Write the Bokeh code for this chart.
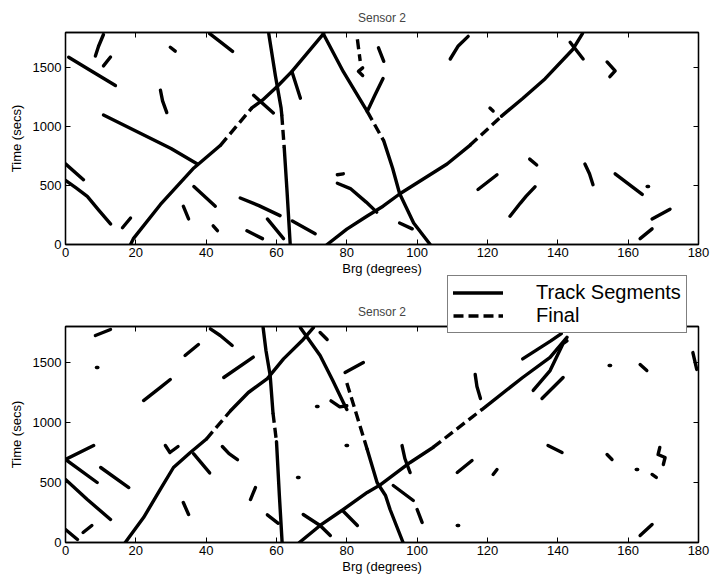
from bokeh.plotting import figure
from bokeh.models import Range1d, LinearAxis, FixedTicker, Legend, LegendItem
from bokeh.layouts import column
from bokeh.embed import file_html
from bokeh.resources import INLINE

FONT = "Liberation Sans"

X_TICKS = [0, 20, 40, 60, 80, 100, 120, 140, 160, 180]
Y_TICKS = [0, 500, 1000, 1500]
TITLES = ["Sensor 2", "Sensor 2"]
X_LABEL = "Brg (degrees)"
Y_LABEL = "Time (secs)"
LEGEND_LABELS = ["Track Segments", "Final"]

# each segment: list of (bearing deg, time s) points
TOP_SOLID = [
    [(18.5, 0), (19.3, 50), (27, 340), (36.5, 650), (44, 840)],
    [(53, 1160), (56, 1225), (60.5, 1350), (64.4, 1470), (73.4, 1790)],
    [(10.8, 1100), (30, 815), (37.5, 683)],
    [(36.5, 492), (42.6, 325)],
    [(0.9, 1590), (7, 1480), (14.2, 1350)],
    [(0, 685), (5.1, 550)],
    [(0, 545), (3, 480), (6.2, 408), (9.5, 290), (12.8, 175)],
    [(16.2, 142), (18.5, 225)],
    [(8.5, 1600), (9.4, 1683), (10.8, 1783)],
    [(10.8, 1517), (12.8, 1592)],
    [(29.8, 1675), (31.2, 1642)],
    [(27, 1310), (27.6, 1220), (28.8, 1120)],
    [(33.5, 325), (35, 217)],
    [(42, 158), (43.2, 117)],
    [(41, 1790), (44.5, 1710), (47.5, 1640)],
    [(49.7, 395), (55, 330), (61, 245)],
    [(51.6, 117), (56, 50)],
    [(57.4, 217), (62, 50)],
    [(64.5, 200), (71, 92)],
    [(57.8, 1790), (59.7, 1430), (61.3, 1160), (61.5, 1100)],
    [(62.2, 820), (63, 450), (63.9, 0)],
    [(53.5, 1267), (59.1, 1117)],
    [(64.4, 1467), (66.8, 1242)],
    [(73.3, 1790), (79, 1467), (85.8, 1130)],
    [(90.5, 880), (93, 650), (95, 433), (99, 183), (103.7, 0)],
    [(85.8, 1130), (88, 1270), (90.3, 1410)],
    [(84.5, 1500), (83.3, 1470), (84.5, 1435)],
    [(89, 1670), (90.5, 1555)],
    [(77.3, 592), (79, 600)],
    [(77.3, 520), (81, 475), (85.5, 360), (88.5, 275)],
    [(95, 183), (98.6, 133)],
    [(74.4, 0), (80, 130), (85.8, 242), (90.3, 325), (95.2, 433), (108.5, 683), (115, 842)],
    [(124, 1090), (130, 1240), (136.4, 1408), (144.3, 1658), (147, 1790)],
    [(143.5, 1717), (147.2, 1575)],
    [(109.4, 1575), (111.6, 1683), (114.5, 1767)],
    [(120.7, 1158), (121.6, 1133)],
    [(117.3, 467), (122.7, 592)],
    [(132, 725), (134, 675)],
    [(126.4, 240), (129.3, 350), (131, 410), (133.5, 490)],
    [(147.7, 683), (149, 600), (150, 508)],
    [(156.3, 600), (164, 425)],
    [(165.4, 492), (165.8, 492)],
    [(166.8, 217), (171.9, 300)],
    [(163.4, 50), (166.8, 133)],
    [(154, 1550), (156.3, 1475), (154.8, 1425)],
]
TOP_DASHED = [
    [(44, 840), (53, 1160)],
    [(61.5, 1100), (62.2, 820)],
    [(85.8, 1130), (90.5, 880)],
    [(83, 1742), (83.8, 1558)],
    [(115, 842), (124, 1090)],
]

BOT_SOLID = [
    [(17, 0), (18.5, 60), (22.2, 208), (27, 444), (30.7, 625), (35.5, 750), (40, 860)],
    [(47, 1100), (52, 1250), (57.4, 1365), (62, 1530), (67.6, 1692), (70.5, 1790)],
    [(56.2, 1790), (57, 1600), (58.2, 1392), (59, 1080)],
    [(60, 840), (60.8, 400), (61.6, 0)],
    [(57.4, 230), (60.5, 160)],
    [(66.8, 1790), (72.4, 1558), (76, 1350), (79, 1167), (80, 1108)],
    [(75.5, 1180), (78, 1130), (80, 1140)],
    [(72.4, 1750), (74.4, 1692)],
    [(41.2, 1780), (44, 1725), (47.4, 1642)],
    [(45, 1375), (53.4, 1545)],
    [(71.4, 1133), (71.8, 1133)],
    [(79.8, 808), (80.2, 808)],
    [(44.6, 800), (46.5, 740), (48.9, 690)],
    [(66, 542), (66.4, 542)],
    [(52.6, 358), (54, 458)],
    [(79.5, 1417), (84.7, 1500)],
    [(85.8, 775), (88.6, 500), (91, 392), (92.3, 275), (96, 0)],
    [(66.5, 0), (72.4, 142), (79, 275), (85.8, 417), (89.5, 480), (98, 667), (104.5, 792)],
    [(118.5, 1110), (130, 1375), (137.8, 1542), (142.6, 1710)],
    [(67.6, 233), (72.4, 142), (75.3, 58)],
    [(79, 260), (83, 142)],
    [(93.2, 475), (98.9, 350)],
    [(100, 275), (101.4, 167)],
    [(95.7, 808), (96.5, 700), (98, 583)],
    [(116.5, 1400), (117, 1300), (118, 1200)],
    [(111.4, 583), (115.6, 683)],
    [(121.6, 567), (122.7, 608)],
    [(111.4, 142), (111.8, 142)],
    [(130, 1530), (134, 1605), (138, 1680), (141, 1740)],
    [(133, 1267), (137.8, 1433), (141.5, 1658), (142.6, 1680)],
    [(135.5, 1200), (141.5, 1375)],
    [(154.6, 1475), (155, 1475)],
    [(163.4, 1483), (165.3, 1433)],
    [(178.4, 1583), (179.5, 1442)],
    [(137.2, 808), (141.2, 750)],
    [(154, 733), (155.4, 692)],
    [(162.3, 608), (162.7, 608)],
    [(166.8, 567), (168, 542)],
    [(169, 792), (168.5, 733), (170.5, 708), (170, 650)],
    [(163.4, 58), (166.8, 150)],
    [(8.5, 1725), (12.8, 1775)],
    [(8.8, 1458), (9.2, 1458)],
    [(34, 1558), (37.8, 1650)],
    [(22.2, 1183), (27, 1292), (29.8, 1358)],
    [(0, 692), (8, 808)],
    [(0, 692), (9, 500)],
    [(10, 625), (18, 458)],
    [(0, 525), (6.2, 358), (12.8, 192)],
    [(5, 83), (7.5, 142)],
    [(0, 108), (3.4, 25)],
    [(28.4, 808), (29.7, 750), (32, 800)],
    [(36.4, 740), (41, 580)],
    [(33.5, 333), (35, 233)],
]
BOT_DASHED = [
    [(40, 860), (47, 1100)],
    [(59, 1080), (60, 840)],
    [(80, 1330), (85.8, 775)],
    [(104.5, 792), (118.5, 1110)],
]

SOLID_STYLE = dict(line_color="black", line_width=3.4, line_cap="round", line_join="round")
DASHED_STYLE = dict(line_color="black", line_width=3.4, line_dash="10 5")


def to_xy(segments):
    return [[pt[0] for pt in s] for s in segments], [[pt[1] for pt in s] for s in segments]


def style_axis(ax, ticks):
    ax.ticker = FixedTicker(ticks=ticks)
    ax.major_tick_in = 5
    ax.major_tick_out = 0
    ax.major_tick_line_color = "black"
    ax.minor_tick_line_color = None
    ax.axis_line_color = "black"
    ax.axis_line_width = 1.3
    ax.major_label_text_font = FONT
    ax.major_label_text_font_size = "13px"
    ax.major_label_text_color = "black"
    ax.axis_label_text_font = FONT
    ax.axis_label_text_font_size = "13px"
    ax.axis_label_text_font_style = "normal"
    ax.axis_label_text_color = "black"


def mirror_axis(ticks):
    ax = LinearAxis()
    style_axis(ax, ticks)
    ax.major_label_text_font_size = "1px"
    ax.major_label_text_color = None
    ax.major_label_standoff = 0
    return ax


def make_fig(height, top, bottom, title, solid, dashed):
    p = figure(width=711, height=height, output_backend="svg", toolbar_location=None,
               x_range=Range1d(0, 180), y_range=Range1d(0, 1800),
               min_border_left=65, min_border_right=13,
               min_border_top=top, min_border_bottom=bottom,
               x_axis_label=X_LABEL, y_axis_label=Y_LABEL)
    p.title.text = title
    p.title.align = "center"
    p.title.text_font = FONT
    p.title.text_font_size = "12px"
    p.title.text_font_style = "normal"
    p.title.standoff = 16
    p.xgrid.visible = False
    p.ygrid.visible = False
    p.outline_line_color = "black"
    p.outline_line_width = 1.3
    p.background_fill_color = "white"
    p.border_fill_color = "white"
    for ax in p.xaxis:
        style_axis(ax, X_TICKS)
        ax.major_label_standoff = 3
        ax.axis_label_standoff = 1
    for ax in p.yaxis:
        style_axis(ax, Y_TICKS)
        ax.major_label_standoff = 4
        ax.axis_label_standoff = 6
    p.add_layout(mirror_axis(Y_TICKS), "right")
    p.add_layout(mirror_axis(X_TICKS), "above")

    sx, sy = to_xy(solid)
    dx, dy = to_xy(dashed)
    p.multi_line(xs=sx, ys=sy, **SOLID_STYLE)
    p.multi_line(xs=dx, ys=dy, **DASHED_STYLE)
    return p


p1 = make_fig(278, 32, 31, TITLES[0], TOP_SOLID, TOP_DASHED)
p2 = make_fig(307, 48, 43, TITLES[1], BOT_SOLID, BOT_DASHED)

# small transparent figure that only holds the legend box, laid over the gap.
# Its ranges keep its copy of the tracks out of view; only the legend shows.
p3 = figure(width=319, height=62, output_backend="svg", toolbar_location=None,
            x_range=Range1d(1000, 1001), y_range=Range1d(1000, 1001),
            x_axis_type=None, y_axis_type=None,
            min_border_left=65, min_border_right=13, min_border_top=0, min_border_bottom=0)
p3.outline_line_color = None
p3.background_fill_color = None
p3.border_fill_color = None
p3.xgrid.visible = False
p3.ygrid.visible = False
bsx, bsy = to_xy(BOT_SOLID)
bdx, bdy = to_xy(BOT_DASHED)
ls = p3.multi_line(xs=bsx, ys=bsy, **SOLID_STYLE)
ld = p3.multi_line(xs=bdx, ys=bdy, **DASHED_STYLE)
legend = Legend(items=[LegendItem(label=LEGEND_LABELS[0], renderers=[ls]),
                       LegendItem(label=LEGEND_LABELS[1], renderers=[ld])],
                location=(1, 2))
legend.border_line_color = "black"
legend.border_line_width = 1.3
legend.background_fill_color = "white"
legend.background_fill_alpha = 1.0
legend.label_text_font = FONT
legend.label_text_font_size = "20px"
legend.label_text_color = "black"
legend.glyph_width = 50
legend.glyph_height = 21
legend.label_height = 21
legend.spacing = 0
legend.padding = 5
legend.label_standoff = 33
legend.margin = 0
p3.add_layout(legend)
p3.margin = (-312, 0, 250, 381)

layout = column(p1, p2, p3, spacing=0)
open("out.html", "w").write(file_html(layout, INLINE))
